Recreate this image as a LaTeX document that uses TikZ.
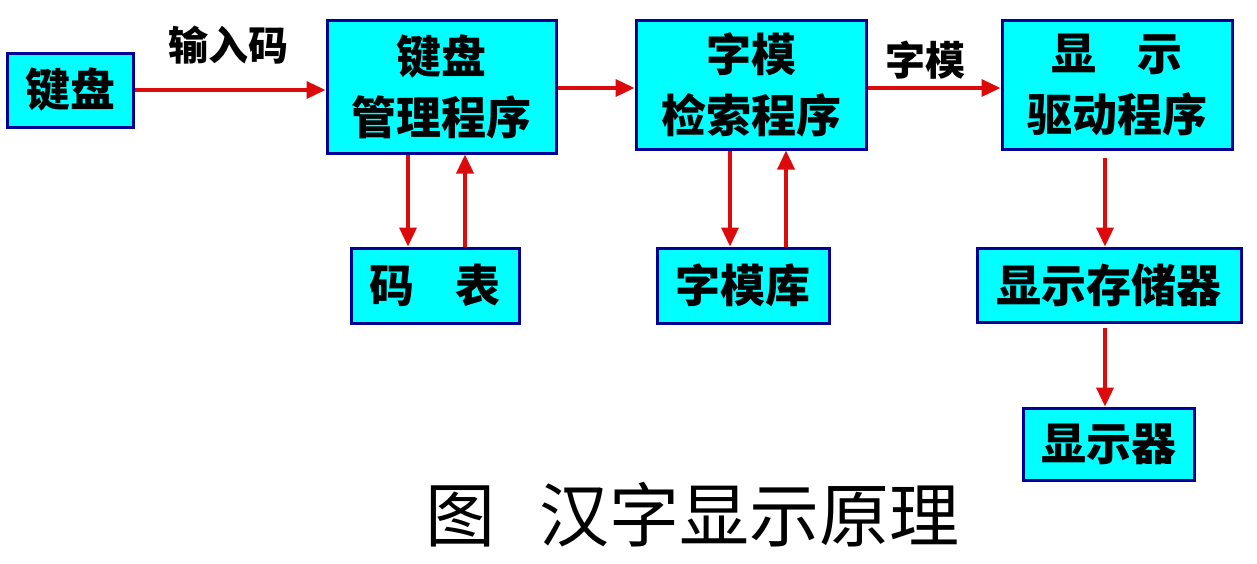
\documentclass[tikz,border=0pt]{standalone}
\usepackage{fontspec}
\setmainfont{Noto Sans CJK SC}
\usetikzlibrary{arrows.meta}
\definecolor{boxfill}{RGB}{0,255,255}
\definecolor{boxline}{RGB}{0,0,150}
\definecolor{arrred}{RGB}{220,10,10}
\tikzset{
  blk/.style={draw=boxline, fill=boxfill, line width=3pt, inner sep=0pt,
    align=center, font=\bfseries\fontsize{45}{61}\selectfont},
  arr/.style={draw=arrred, line width=3.5pt,
    -{Triangle[length=19pt,width=17pt]}},
  lbl/.style={font=\bfseries\fontsize{40}{48}\selectfont}
}
\begin{document}
\begin{tikzpicture}[x=1pt,y=-1pt]
\path[use as bounding box, fill=white] (0,0) rectangle (1257,563);

% blocks
\node[blk, minimum width=126pt, minimum height=74pt] (kb) at (70,90) {键盘};
\node[blk, minimum width=229pt, minimum height=133pt] (km) at (441.5,86.5) {键盘\\管理程序};
\node[blk, minimum width=230pt, minimum height=129pt] (fs) at (751,84.5) {字模\\检索程序};
\node[blk, minimum width=230pt, minimum height=129pt] (dd) at (1117,84.5) {显\hspace{0.9em}示\\驱动程序};
\node[blk, minimum width=168pt, minimum height=75pt] (ct) at (435,285.5) {码\hspace{0.9em}表};
\node[blk, minimum width=172pt, minimum height=75pt] (fl) at (743,285.5) {字模库};
\node[blk, minimum width=264pt, minimum height=74pt] (vm) at (1109,285) {显示存储器};
\node[blk, minimum width=171pt, minimum height=72pt] (dp) at (1108.5,444) {显示器};

% horizontal flow
\draw[arr] (kb.east) -- (kb.east -| km.west);
\draw[arr] (km.east |- 0,88) -- (fs.west |- 0,88);
\draw[arr] (fs.east |- 0,88) -- (dd.west |- 0,88);
\node[lbl] (in) at (228,45) {输入码};
\node[lbl] (fm) at (925,60) {字模};

% lookups
\draw[arr] ([xshift=-33.5pt]km.south) -- ([xshift=-27pt]ct.north);
\draw[arr] ([xshift=30pt]ct.north) -- ([xshift=23.5pt]km.south);
\draw[arr] ([xshift=-21pt]fs.south) -- ([xshift=-13pt]fl.north);
\draw[arr] ([xshift=43pt]fl.north) -- ([xshift=35pt]fs.south);

% output chain
\draw[arr, shorten <=7pt] ([xshift=-12pt]dd.south) -- ([xshift=-4pt]vm.north);
\draw[arr, shorten <=4pt] ([xshift=-4pt]vm.south) -- ([xshift=-3.5pt]dp.north);

% caption
\node[font=\fontsize{70}{80}\selectfont] (cap) at (692.5,515) {图\hspace{45pt}汉字显示原理};
\end{tikzpicture}
\end{document}
